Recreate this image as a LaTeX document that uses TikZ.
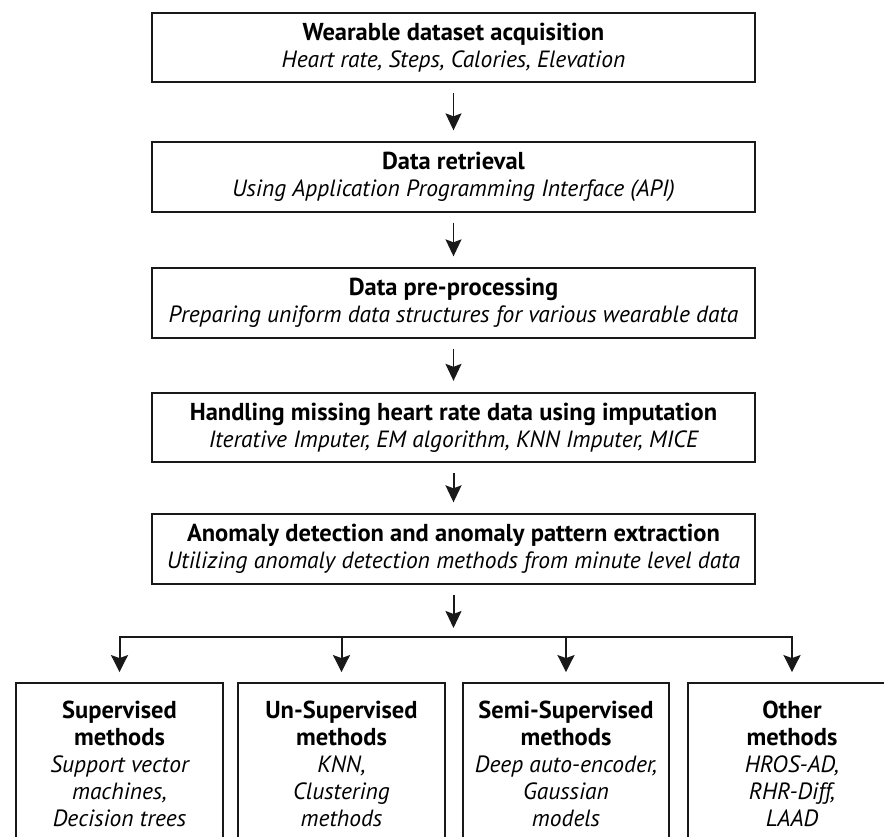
\documentclass[tikz,border=0pt]{standalone}
\usepackage{fontspec}
\setmainfont{PT Sans}
\usetikzlibrary{arrows.meta}
\newcommand{\headline}[1]{{\fontsize{24.5}{27}\selectfont\bfseries #1}}
\newcommand{\detail}[1]{{\fontsize{23.5}{27}\selectfont\itshape #1}}

\begin{document}
\begin{tikzpicture}[x=1pt,y=-1pt,
  >=Stealth,
  stage/.style={draw=black!90,line width=1.8pt,fill=white,align=center,
    minimum width=603pt,minimum height=69.5pt,inner sep=0pt,
    font={\fontsize{24}{27}\selectfont}},
  method/.style={draw=black!90,line width=1.8pt,fill=white,align=center,
    minimum width=207pt,minimum height=162pt,inner sep=0pt,
    font={\fontsize{24}{27}\selectfont}},
  flow/.style={draw=black!90,line width=1.4pt,
    -{Stealth[length=17pt,width=16pt,inset=3pt]},
    shorten <=10pt,shorten >=11pt},
  branch/.style={draw=black!90,line width=2pt,
    -{Stealth[length=17pt,width=17pt,inset=3pt]},shorten >=10pt}]

\useasboundingbox (0,0) rectangle (884,837);
\clip (0,0) rectangle (884,837);

\node[stage] (acquisition) at (453.5,47.5)
  {\headline{Wearable dataset acquisition}\\
   \detail{Heart rate, Steps, Calories, Elevation}};
\node[stage] (retrieval) at (453.5,177)
  {\headline{Data retrieval}\\
   \detail{Using Application Programming Interface (API)}};
\node[stage] (preprocess) at (453.5,303)
  {\headline{Data pre-processing}\\
   \detail{Preparing uniform data structures for various wearable data}};
\node[stage] (imputation) at (453.5,427.5)
  {\headline{Handling missing heart rate data using imputation}\\
   \detail{Iterative Imputer, EM algorithm, KNN Imputer, MICE}};
\node[stage] (anomaly) at (453.5,549)
  {\headline{Anomaly detection and anomaly pattern extraction}\\
   \detail{Utilizing anomaly detection methods from minute level data}};

\coordinate (split) at (453.5,637);

\node[method] (supervised) at (119.5,764)
  {\headline{Supervised}\\\headline{methods}\\
   \detail{Support vector}\\\detail{machines,}\\\detail{Decision trees}};
\node[method] (unsupervised) at (341.5,764)
  {\headline{Un-Supervised}\\\headline{methods}\\
   \detail{KNN,}\\\detail{Clustering}\\\detail{methods}};
\node[method,minimum width=206pt] (semisupervised) at (566,764)
  {\headline{Semi-Supervised}\\\headline{methods}\\
   \detail{Deep auto-encoder,}\\\detail{Gaussian}\\\detail{models}};
\node[method,minimum width=208pt] (other) at (792,764)
  {\headline{Other}\\\headline{methods}\\
   \detail{HROS-AD,}\\\detail{RHR-Diff,}\\\detail{LAAD}};

\draw[flow] (acquisition) -- (retrieval);
\draw[flow] (retrieval) -- (preprocess);
\draw[flow] (preprocess) -- (imputation);
\draw[flow,line width=2pt] (imputation) -- (anomaly);
\draw[flow,line width=2pt,shorten >=9pt] (anomaly) -- (split);
\draw[branch] (split) -| (supervised.north);
\draw[branch] (split) -| (other.north);
\draw[branch] (split -| unsupervised.north) -- (unsupervised.north);
\draw[branch] (split -| semisupervised.north) -- (semisupervised.north);
\end{tikzpicture}
\end{document}
